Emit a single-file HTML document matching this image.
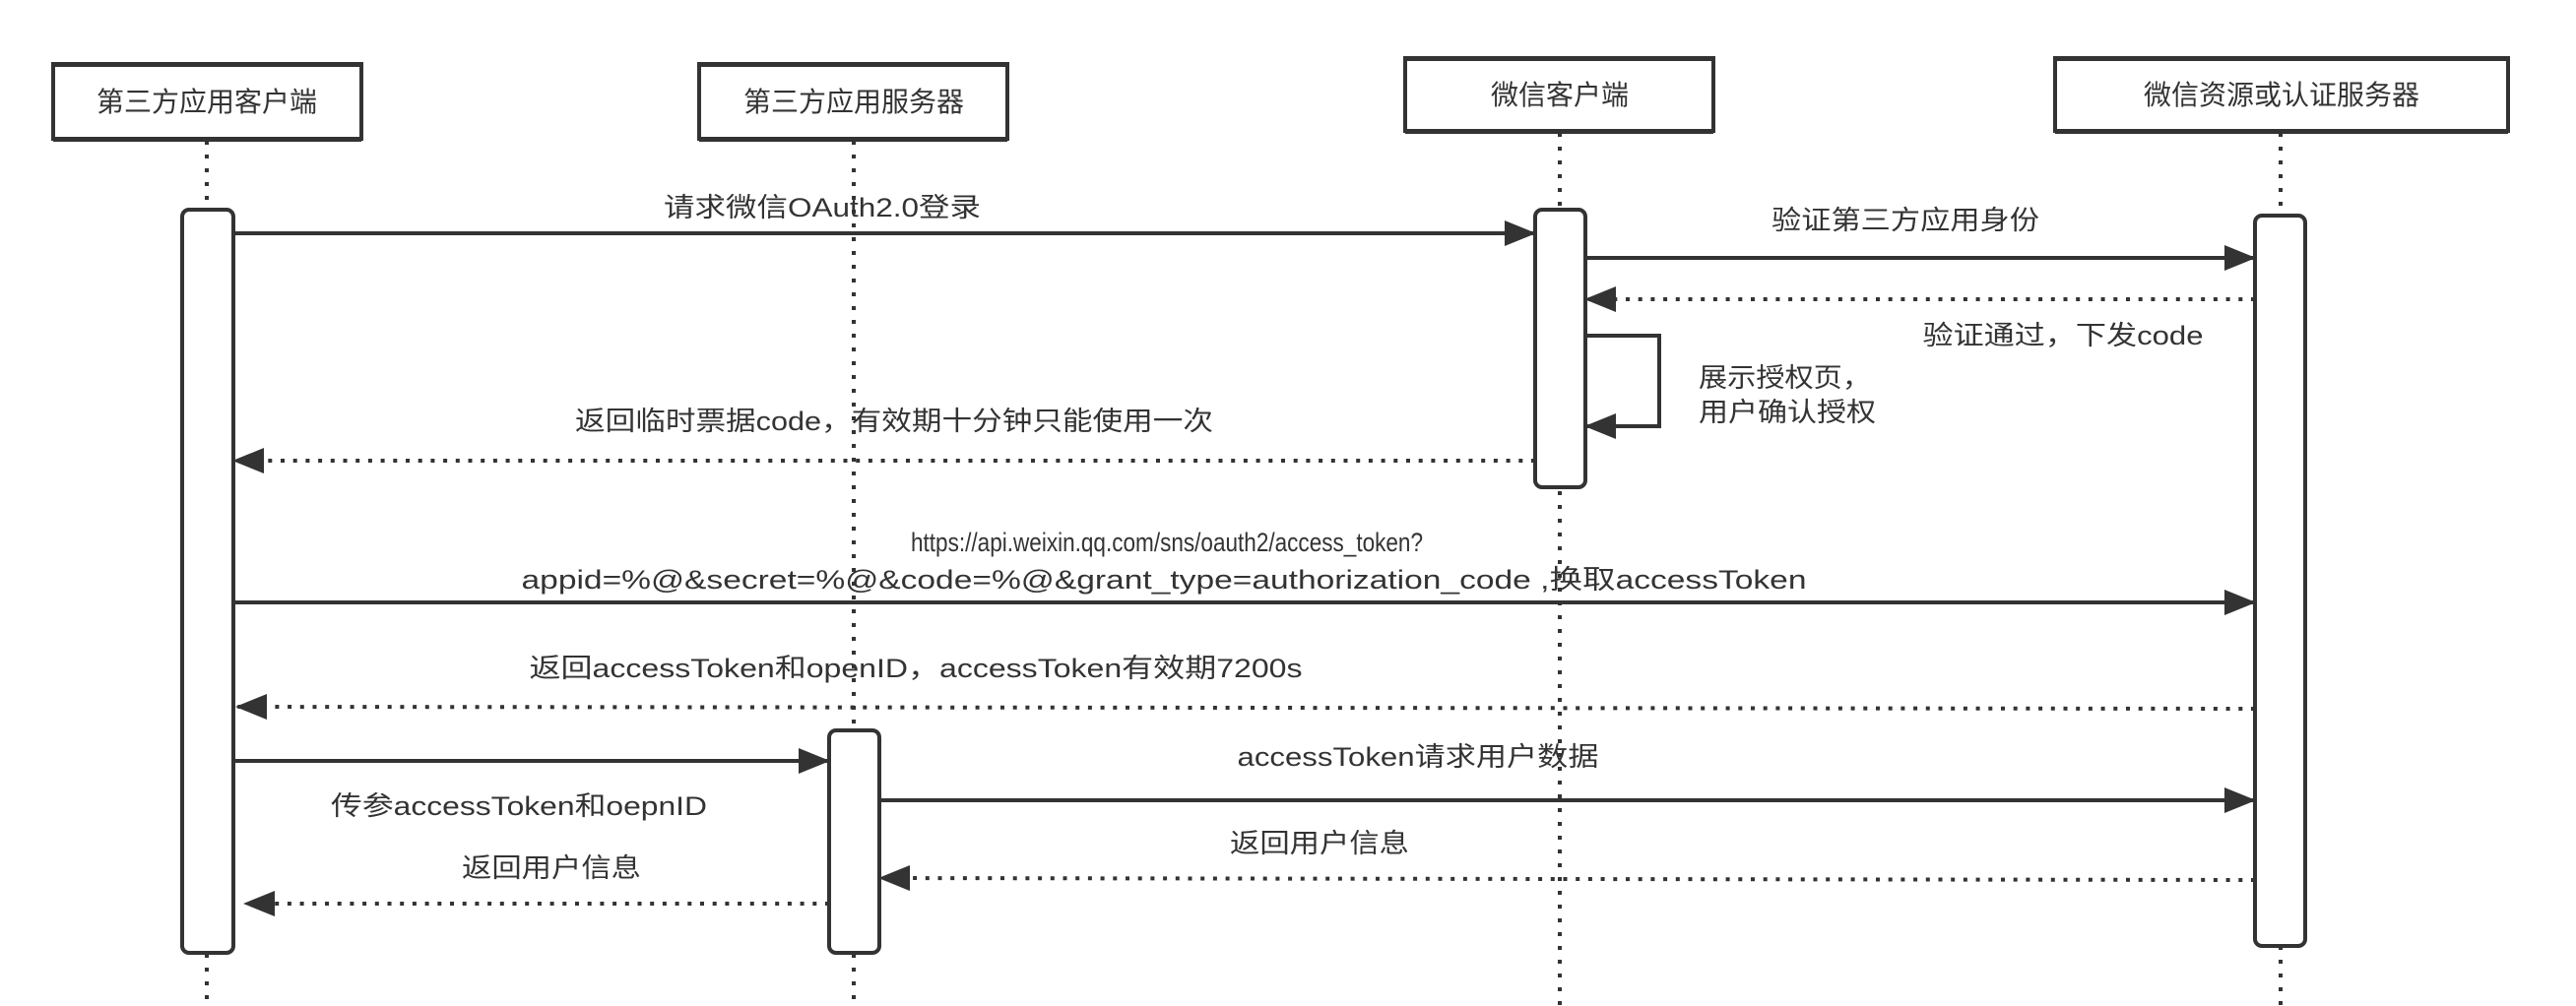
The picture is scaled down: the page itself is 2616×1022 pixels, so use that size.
<!DOCTYPE html>
<html><head><meta charset="utf-8"><style>
html,body{margin:0;padding:0;background:#fff;}
svg{display:block;}
text{font-family:"Liberation Sans","Noto Sans CJK SC",sans-serif;fill:#333;font-size:27px;}
</style></head><body>
<svg width="2616" height="1022" viewBox="0 0 2616 1022" xmlns="http://www.w3.org/2000/svg">
<defs>
<marker id="ah" markerWidth="32" markerHeight="26" refX="31" refY="13" orient="auto" markerUnits="userSpaceOnUse">
<path d="M0,0 L32,13 L0,26 Z" fill="#333"/>
</marker>
</defs>
<g stroke="#333" stroke-width="4" stroke-dasharray="4 10" fill="none">
<line x1="210" y1="143" x2="210" y2="1022"/>
<line x1="867" y1="143" x2="867" y2="1022"/>
<line x1="1584" y1="135" x2="1584" y2="1022"/>
<line x1="2316" y1="135" x2="2316" y2="1022"/>
</g>
<g fill="#fff" stroke="#333" stroke-width="4">
<rect x="54" y="65" width="313" height="76"/>
<rect x="710" y="65" width="313" height="76"/>
<rect x="1427" y="59" width="313" height="74"/>
<rect x="2087" y="59" width="460" height="74"/>
</g>
<g fill="#333">
<rect x="54" y="63" width="313" height="5"/><rect x="54" y="139" width="313" height="5"/>
<rect x="710" y="63" width="313" height="5"/><rect x="710" y="139" width="313" height="5"/>
<rect x="1427" y="57" width="313" height="5"/><rect x="1427" y="131" width="313" height="5"/>
<rect x="2087" y="57" width="460" height="5"/><rect x="2087" y="131" width="460" height="5"/>
</g>
<g text-anchor="middle" font-size="28">
<text x="210" y="113" style="font-size:28px">第三方应用客户端</text>
<text x="867" y="113" style="font-size:28px">第三方应用服务器</text>
<text x="1584" y="106" style="font-size:28px">微信客户端</text>
<text x="2317" y="106" style="font-size:28px">微信资源或认证服务器</text>
</g>
<g fill="#fff" stroke="#333" stroke-width="4">
<rect x="185" y="213" width="52" height="755" rx="7"/>
<rect x="1559" y="213" width="51" height="282" rx="7"/>
<rect x="2290" y="219" width="51" height="742" rx="7"/>
<rect x="842" y="742" width="51" height="226" rx="7"/>
</g>
<g stroke="#333" stroke-width="4" fill="none" marker-end="url(#ah)">
<line x1="237" y1="237" x2="1559" y2="237"/>
<line x1="1610" y1="262" x2="2290" y2="262"/>
<polyline points="1610,341 1685,341 1685,433 1610,433"/>
<line x1="237" y1="612" x2="2290" y2="612"/>
<line x1="237" y1="773" x2="842" y2="773"/>
<line x1="893" y1="813" x2="2290" y2="813"/>
</g>
<g stroke="#333" stroke-width="4" fill="none" stroke-dasharray="4 8.7" marker-end="url(#ah)">
<line x1="2290" y1="304" x2="1610" y2="304"/>
<line x1="1559" y1="468" x2="237" y2="468"/>
<line x1="2290" y1="720" x2="240" y2="718"/>
<line x1="2290" y1="894" x2="893" y2="892"/>
<line x1="842" y1="918" x2="248" y2="918"/>
</g>
<g text-anchor="middle">
<text x="835" y="220" textLength="322" lengthAdjust="spacingAndGlyphs">请求微信OAuth2.0登录</text>
<text x="1935" y="233" textLength="272" lengthAdjust="spacingAndGlyphs">验证第三方应用身份</text>
<text x="2095" y="350" textLength="285" lengthAdjust="spacingAndGlyphs">验证通过，下发code</text>
<text x="908" y="437" textLength="648" lengthAdjust="spacingAndGlyphs">返回临时票据code，有效期十分钟只能使用一次</text>
<text x="1185" y="560" textLength="520" lengthAdjust="spacingAndGlyphs">https://api.weixin.qq.com/sns/oauth2/access_token?</text>
<text x="1182" y="598" textLength="1305" lengthAdjust="spacingAndGlyphs">appid=%@&amp;secret=%@&amp;code=%@&amp;grant_type=authorization_code ,换取accessToken</text>
<text x="930" y="688" textLength="785" lengthAdjust="spacingAndGlyphs">返回accessToken和openID，accessToken有效期7200s</text>
<text x="1440" y="778" textLength="367" lengthAdjust="spacingAndGlyphs">accessToken请求用户数据</text>
<text x="527" y="828" textLength="382" lengthAdjust="spacingAndGlyphs">传参accessToken和oepnID</text>
<text x="1340" y="866" textLength="182" lengthAdjust="spacingAndGlyphs">返回用户信息</text>
<text x="560" y="891" textLength="182" lengthAdjust="spacingAndGlyphs">返回用户信息</text>
</g>
<text x="1725" y="393" textLength="175" lengthAdjust="spacingAndGlyphs">展示授权页，</text>
<text x="1725" y="428" textLength="180" lengthAdjust="spacingAndGlyphs">用户确认授权</text>
</svg>
</body></html>
